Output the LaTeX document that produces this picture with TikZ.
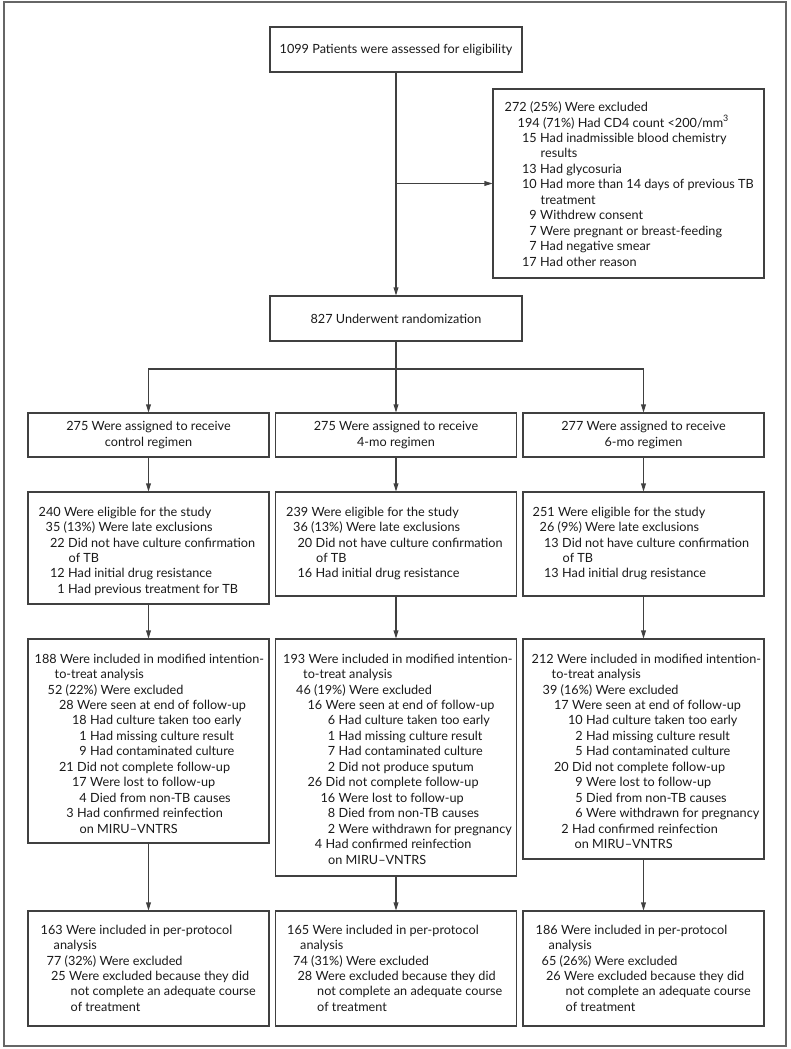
\documentclass[tikz,border=0pt]{standalone}
\usepackage{fontspec}
\setmainfont{Lato}
\usetikzlibrary{arrows.meta}
\usetikzlibrary{calc}

\newlength\pxu
\setlength\pxu{0.75pt}
\newcommand{\indentpx}[1]{\makebox[#1\pxu]{}}
\newcommand{\cnt}[1]{\makebox[12\pxu][r]{#1}\hspace{3.5\pxu}}

\tikzset{
  box/.style={draw=black!75, line width=0.8pt, inner sep=0pt, align=center},
  colbox/.style={box, minimum width=241\pxu},
  txt/.style={anchor=north west, inner sep=0pt, align=left},
  arr/.style={draw=black!75, line width=0.8pt, -{Triangle[length=6pt,width=3.6pt]}},
  frame/.style={draw=black!60, line width=1.1pt}
}

\begin{document}
\begin{tikzpicture}[x=0.75pt, y=-0.75pt, font=\fontsize{9.5}{11.6}\selectfont, color=black!90]
\useasboundingbox (0,0) rectangle (791,1049);
\draw[frame] (4,2) rectangle (786,1046);

\node[box, minimum width=252\pxu, minimum height=45\pxu] (assess) at (396,49.5) {1099 Patients were assessed for eligibility};
\node[box, minimum width=271\pxu, minimum height=189\pxu] (excl) at (628.5,183.5) {};
\node[txt] (excltxt) at ($(excl.north west)+(12,13)$) {272 (25\%) Were excluded\\
\indentpx{13}194 (71\%) Had CD4 count <200/mm\textsuperscript{3}\\
\indentpx{20}\cnt{15}Had inadmissible blood chemistry\\
\indentpx{36}results\\
\indentpx{20}\cnt{13}Had glycosuria\\
\indentpx{20}\cnt{10}Had more than 14 days of previous TB\\
\indentpx{36}treatment\\
\indentpx{20}\cnt{9}Withdrew consent\\
\indentpx{20}\cnt{7}Were pregnant or breast-feeding\\
\indentpx{20}\cnt{7}Had negative smear\\
\indentpx{20}\cnt{17}Had other reason};
\node[box, minimum width=252\pxu, minimum height=45\pxu] (random) at (396,318.5) {827 Underwent randomization};

\node[colbox, minimum height=44\pxu] (assign1) at (148.5,435) {275 Were assigned to receive\\control regimen};
\node[colbox, minimum height=44\pxu] (assign2) at (396,435) {275 Were assigned to receive\\4-mo regimen};
\node[colbox, minimum height=44\pxu] (assign3) at (643.5,435) {277 Were assigned to receive\\6-mo regimen};

\node[colbox, minimum height=112\pxu] (elig1) at (148.5,548) {};
\node[txt] (elig1txt) at ($(elig1.north west)+(11,15)$) {240 Were eligible for the study\\
\indentpx{7}35 (13\%) Were late exclusions\\
\indentpx{14}\cnt{22}Did not have culture confirmation\\
\indentpx{30}of TB\\
\indentpx{14}\cnt{12}Had initial drug resistance\\
\indentpx{14}\cnt{1}Had previous treatment for TB};
\node[colbox, minimum height=104\pxu] (elig2) at (396,544) {};
\node[txt] (elig2txt) at ($(elig2.north west)+(11,15)$) {239 Were eligible for the study\\
\indentpx{7}36 (13\%) Were late exclusions\\
\indentpx{14}\cnt{20}Did not have culture confirmation\\
\indentpx{30}of TB\\
\indentpx{14}\cnt{16}Had initial drug resistance};
\node[colbox, minimum height=104\pxu] (elig3) at (643.5,544) {};
\node[txt] (elig3txt) at ($(elig3.north west)+(10,15)$) {251 Were eligible for the study\\
\indentpx{7}26 (9\%) Were late exclusions\\
\indentpx{14}\cnt{13}Did not have culture confirmation\\
\indentpx{30}of TB\\
\indentpx{14}\cnt{13}Had initial drug resistance};

\node[colbox, minimum height=204\pxu] (itt1) at (148.5,741) {};
\node[txt] (itt1txt) at ($(itt1.north west)+(7,15)$) {188 Were included in modified intention-\\
\indentpx{20}to-treat analysis\\
\indentpx{13}52 (22\%) Were excluded\\
\indentpx{27}\cnt{28}Were seen at end of follow-up\\
\indentpx{40}\cnt{18}Had culture taken too early\\
\indentpx{40}\cnt{1}Had missing culture result\\
\indentpx{40}\cnt{9}Had contaminated culture\\
\indentpx{27}\cnt{21}Did not complete follow-up\\
\indentpx{40}\cnt{17}Were lost to follow-up\\
\indentpx{40}\cnt{4}Died from non-TB causes\\
\indentpx{27}\cnt{3}Had confirmed reinfection\\
\indentpx{45}on MIRU--VNTRS};
\node[colbox, minimum height=237\pxu] (itt2) at (396,757.5) {};
\node[txt] (itt2txt) at ($(itt2.north west)+(8,15)$) {193 Were included in modified intention-\\
\indentpx{20}to-treat analysis\\
\indentpx{13}46 (19\%) Were excluded\\
\indentpx{27}\cnt{16}Were seen at end of follow-up\\
\indentpx{40}\cnt{6}Had culture taken too early\\
\indentpx{40}\cnt{1}Had missing culture result\\
\indentpx{40}\cnt{7}Had contaminated culture\\
\indentpx{40}\cnt{2}Did not produce sputum\\
\indentpx{27}\cnt{26}Did not complete follow-up\\
\indentpx{40}\cnt{16}Were lost to follow-up\\
\indentpx{40}\cnt{8}Died from non-TB causes\\
\indentpx{40}\cnt{2}Were withdrawn for pregnancy\\
\indentpx{27}\cnt{4}Had confirmed reinfection\\
\indentpx{45}on MIRU--VNTRS};
\node[colbox, minimum height=220\pxu] (itt3) at (643.5,749) {};
\node[txt] (itt3txt) at ($(itt3.north west)+(9,15)$) {212 Were included in modified intention-\\
\indentpx{20}to-treat analysis\\
\indentpx{11}39 (16\%) Were excluded\\
\indentpx{25}\cnt{17}Were seen at end of follow-up\\
\indentpx{39}\cnt{10}Had culture taken too early\\
\indentpx{39}\cnt{2}Had missing culture result\\
\indentpx{39}\cnt{5}Had contaminated culture\\
\indentpx{25}\cnt{20}Did not complete follow-up\\
\indentpx{39}\cnt{9}Were lost to follow-up\\
\indentpx{39}\cnt{5}Died from non-TB causes\\
\indentpx{39}\cnt{6}Were withdrawn for pregnancy\\
\indentpx{25}\cnt{2}Had confirmed reinfection\\
\indentpx{43}on MIRU--VNTRS};

\node[colbox, minimum height=115\pxu] (pp1) at (148.5,968.5) {};
\node[txt] (pp1txt) at ($(pp1.north west)+(13,14)$) {163 Were included in per-protocol\\
\indentpx{13}analysis\\
\indentpx{6}77 (32\%) Were excluded\\
\indentpx{13}\cnt{25}Were excluded because they did\\
\indentpx{30}not complete an adequate course\\
\indentpx{30}of treatment};
\node[colbox, minimum height=115\pxu] (pp2) at (396,968.5) {};
\node[txt] (pp2txt) at ($(pp2.north west)+(12,14)$) {165 Were included in per-protocol\\
\indentpx{13}analysis\\
\indentpx{6}74 (31\%) Were excluded\\
\indentpx{13}\cnt{28}Were excluded because they did\\
\indentpx{30}not complete an adequate course\\
\indentpx{30}of treatment};
\node[colbox, minimum height=115\pxu] (pp3) at (643.5,968.5) {};
\node[txt] (pp3txt) at ($(pp3.north west)+(13,14)$) {186 Were included in per-protocol\\
\indentpx{13}analysis\\
\indentpx{6}65 (26\%) Were excluded\\
\indentpx{13}\cnt{26}Were excluded because they did\\
\indentpx{30}not complete an adequate course\\
\indentpx{30}of treatment};

\draw[arr] (assess) -- (random);
\draw[arr] (assess.south |- excl.west) -- (excl.west);
\coordinate (fork) at (396,369);
\draw[arr] (random) -- (assign2);
\draw[arr] (fork) -| (assign1);
\draw[arr] (fork) -| (assign3);
\foreach \c in {1,2,3} {
  \draw[arr] (assign\c) -- (elig\c);
  \draw[arr] (elig\c) -- (itt\c);
  \draw[arr] (itt\c) -- (pp\c);
}
\end{tikzpicture}
\end{document}
